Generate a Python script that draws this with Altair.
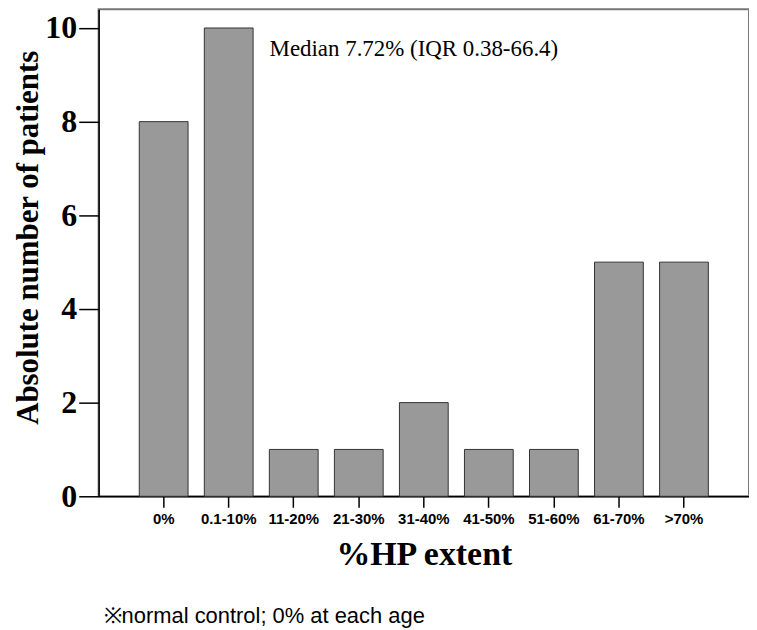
import altair as alt
import pandas as pd

categories = ["0%", "0.1-10%", "11-20%", "21-30%", "31-40%", "41-50%", "51-60%", "61-70%", ">70%"]
counts = [8, 10, 1, 1, 2, 1, 1, 5, 5]
y_ticks = [0, 2, 4, 6, 8, 10]
annotation = "Median 7.72% (IQR 0.38-66.4)"
footnote = "※normal control; 0% at each age"

df = pd.DataFrame({"cat": categories, "n": counts})

xscale = alt.Scale(domain=categories, paddingInner=0.25, paddingOuter=0.625)
yscale = alt.Scale(domain=[0, 10.4], nice=False, zero=True)

bars = alt.Chart(df).mark_bar(
    fill="#999999", stroke="#333333", strokeWidth=1
).encode(
    x=alt.X("cat:N", scale=xscale, sort=categories,
            axis=alt.Axis(title="%HP extent", labelAngle=0,
                          labelFont="Liberation Sans", labelFontWeight="bold",
                          labelFontSize=15, labelColor="#000", labelPadding=4,
                          tickSize=11, tickColor="#000", tickWidth=1.5,
                          domainColor="#000", domainWidth=1.5,
                          titleFont="Liberation Serif", titleFontWeight="bold",
                          titleFontSize=34, titleColor="#000",
                          titleBaseline="middle", titleY=58)),
    y=alt.Y("n:Q", scale=yscale,
            axis=alt.Axis(title="Absolute number of patients", values=y_ticks,
                          grid=False, labelFont="Liberation Serif",
                          labelFontWeight="bold", labelFontSize=32,
                          labelColor="#000", labelPadding=2,
                          tickSize=20, tickColor="#000", tickWidth=1.5,
                          domainColor="#000", domainWidth=1.5,
                          titleFont="Liberation Serif", titleFontWeight="bold",
                          titleFontSize=31, titleColor="#000",
                          titleAngle=270, titleAlign="center",
                          titleBaseline="middle", titleX=-70, titleY=229)),
)

ann_df = pd.DataFrame({"cat": ["0.1-10%"], "y": [9.55], "t": [annotation]})
ann = alt.Chart(ann_df).mark_text(
    align="left", baseline="middle", dx=41,
    font="Liberation Serif", fontSize=23, color="#000"
).encode(x=alt.X("cat:N", scale=xscale, sort=categories), y=alt.Y("y:Q", scale=yscale), text="t:N")

foot_df = pd.DataFrame({"t": [footnote]})
foot = alt.Chart(foot_df).mark_text(
    align="left", baseline="middle",
    font="Liberation Sans", fontSize=22, color="#000"
).encode(x=alt.value(5), y=alt.value(609), text="t:N")

chart = alt.layer(bars, ann, foot).properties(
    width=653, height=489,
    autosize=alt.AutoSizeParams(type="none"),
    padding={"left": 91, "top": 0, "right": 0, "bottom": 133},
).configure_view(stroke="#777777", strokeWidth=2)

chart.save("out.html", embed_options={"renderer": "svg", "actions": False})
